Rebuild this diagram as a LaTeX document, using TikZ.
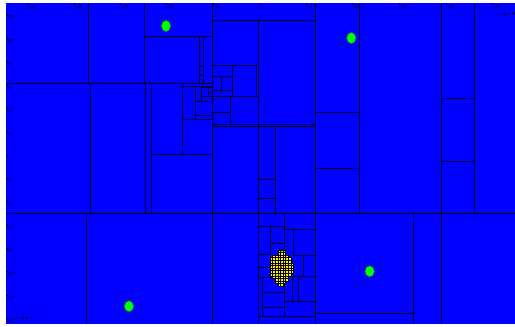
\documentclass[tikz,border=0pt]{standalone}
\begin{document}
\begin{tikzpicture}[x=1pt,y=-1pt,
  ln/.style={line width=0.65pt, draw=black!85!blue},
  dot/.style={fill=green, draw=green!55!black, line width=0.4pt},
  cell/.style={fill=yellow, draw=black, line width=0.25pt},
  tick/.style={font=\sffamily\fontsize{4.2}{4.5}\selectfont, inner sep=0pt, text=black}]
\useasboundingbox (0,0) rectangle (515,327);
\fill[white] (0,0) rectangle (515,327);
\fill[blue] (6,3) rectangle (515,324);
% main splits
\draw[ln] (212,3) -- (212,324);
\draw[ln] (315.3,3) -- (315.3,324);
\draw[ln] (6,213) -- (515,213);
% top-left quadrant
\draw[ln] (6,83) -- (212,83);
\draw[ln] (88,3) -- (88,83);
\draw[ln] (144,3) -- (144,83);
\draw[ln] (144,36) -- (212,36);
\draw[ln] (199.5,36) -- (199.5,83);
\draw[ln] (203.5,36) -- (203.5,83);
\draw[ln] (199.5,66) -- (203.5,66);
\draw[ln] (199.5,75.5) -- (203.5,75.5);
\draw[ln] (90.3,83) -- (90.3,213);
\draw[ln] (145.3,83) -- (145.3,213);
\draw[ln] (151.3,83) -- (151.3,213);
\draw[ln] (182.3,83) -- (182.3,154);
\draw[ln] (151.3,154) -- (212,154);
\draw[ln] (182.3,86) -- (212,86);
\draw[ln] (195.7,86) -- (195.7,119);
\draw[ln] (182.3,119) -- (212,119);
\draw[ln] (201.3,87.7) -- (212,87.7);
\draw[ln] (201.3,87.7) -- (201.3,101.7);
\draw[ln] (208.3,87.7) -- (208.3,96.7);
\draw[ln] (208.3,92.3) -- (212,92.3);
\draw[ln] (201.3,96.7) -- (212,96.7);
\draw[ln] (195.7,101.7) -- (212,101.7);
\draw[ln] (195.7,115.7) -- (212,115.7);
% top-middle
\draw[ln] (212,20) -- (315.3,20);
\draw[ln] (258.5,20) -- (258.5,213);
\draw[ln] (212,65.3) -- (258.5,65.3);
\draw[ln] (212,76.5) -- (232.3,76.5);
\draw[ln] (221.3,76.5) -- (221.3,90);
\draw[ln] (212,90) -- (232.3,90);
\draw[ln] (232.3,65.3) -- (232.3,96.7);
\draw[ln] (256.3,65.3) -- (256.3,96.7);
\draw[ln] (212,96.7) -- (258.5,96.7);
\draw[ln] (230,96.7) -- (230,124.5);
\draw[ln] (212,112.3) -- (230,112.3);
\draw[ln] (212,124.5) -- (315.3,124.5);
\draw[ln] (212,126.5) -- (315.3,126.5);
\draw[ln] (275.7,126.5) -- (275.7,213);
\draw[ln] (258.5,179.7) -- (275.7,179.7);
\draw[ln] (258.5,198.3) -- (275.7,198.3);
% top-right
\draw[ln] (359,3) -- (359,213);
\draw[ln] (315.3,112.3) -- (359,112.3);
\draw[ln] (315.3,168) -- (359,168);
\draw[ln] (441.3,3) -- (441.3,213);
\draw[ln] (474.3,3) -- (474.3,213);
\draw[ln] (441.3,98.3) -- (474.3,98.3);
\draw[ln] (441.3,161.3) -- (474.3,161.3);
% bottom
\draw[ln] (86.3,213) -- (86.3,324);
\draw[ln] (258.3,213) -- (258.3,324);
\draw[ln] (413.3,213) -- (413.3,324);
\draw[ln] (441.3,213) -- (441.3,324);
\draw[ln] (315.3,313.3) -- (413.3,313.3);
\draw[ln] (258.3,316) -- (315.3,316);
% cluster region
\draw[ln] (258.3,226) -- (284.3,226);
\draw[ln] (284.3,213) -- (284.3,255);
\draw[ln] (284.3,229.3) -- (315.3,229.3);
\draw[ln] (270.7,226) -- (270.7,254.3);
\draw[ln] (258.3,254.3) -- (270.7,254.3);
\draw[ln] (270.7,243.3) -- (284.3,243.3);
\draw[ln] (293.3,229.3) -- (293.3,255);
\draw[ln] (293.3,255) -- (315.3,255);
\draw[ln] (303.3,255) -- (303.3,276.7);
\draw[ln] (284.3,276.7) -- (315.3,276.7);
\draw[ln] (258.3,267.3) -- (270.7,267.3);
\draw[ln] (258.3,277.3) -- (284.3,277.3);
\draw[ln] (262.3,277.3) -- (262.3,316);
\draw[ln] (284.3,277.3) -- (284.3,316);
\draw[ln] (292.7,276.7) -- (292.7,301.7);
\draw[ln] (298.3,276.7) -- (298.3,301.7);
\draw[ln] (284.3,301.7) -- (315.3,301.7);
\draw[ln] (262.3,292.7) -- (284.3,292.7);
\draw[ln] (262.3,307.7) -- (284.3,307.7);
% yellow cells
\foreach \r/\a/\b in {0/3/5,1/3/5,2/1/6,3/0/7,4/0/7,5/0/8,6/0/8,7/0/8,8/0/8,9/0/7,10/1/6,11/2/6,12/2/5,13/3/4}{
  \foreach \c in {\a,...,\b}{
    \draw[cell] ({270+\c*2.6},{249.7+\r*2.6}) rectangle ++(2.6,2.6);
  }
}
\fill[red!80!black] (279.8,265.8) rectangle (281.6,267.6);
% green dots
\draw[dot] (166,26) ellipse (4.6 and 5.5);
\draw[dot] (351.3,38) ellipse (4.6 and 5.5);
\draw[dot] (129,306.3) ellipse (4.6 and 5.5);
\draw[dot] (369.7,271.3) ellipse (4.6 and 5.5);
% top tick labels
\foreach \x/\t in {27/250,74/200,120/150,166/100,213/50,259/0,306/50,352/100,399/150,446/200,492/250}{
  \draw[line width=0.3pt] (\x,3) -- (\x,5);
  \node[tick, anchor=west] at (\x+1.5,7) {\t};
}
% left tick labels
\foreach \y/\t in {17.3/120,41/100,64.3/80,87.7/60,111/40,134.3/20,157.7/0,181/20,204.3/40,227.7/60,251/80,274.3/100,297.7/120,321/140}{
  \draw[line width=0.3pt] (6,\y-3) -- (8,\y-3);
  \node[tick, anchor=west] at (7,\y) {\t};
}
\node[tick, anchor=east, font=\sffamily\fontsize{4.8}{5}\selectfont] at (515,14) {x: dim 0};
\node[tick, anchor=west, font=\sffamily\fontsize{4.8}{5}\selectfont] at (14.5,318.5) {y: dim 1};
\end{tikzpicture}
\end{document}
